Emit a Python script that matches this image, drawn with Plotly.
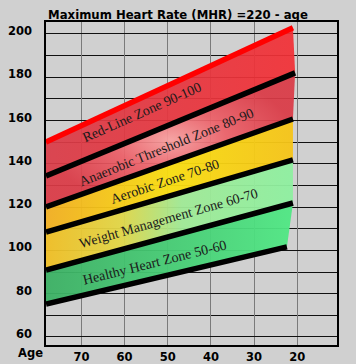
import plotly.graph_objects as go

# ---------------- data ----------------
zone_names = ["Red-Line Zone 90-100", "Anaerobic Threshold Zone 80-90", "Aerobic Zone 70-80",
              "Weight Management Zone 60-70", "Healthy Heart Zone 50-60"]
boundary_pct = [100, 90, 80, 70, 60, 50]
boundary_age_start = [78.2, 78.2, 78.2, 78.2, 78.2, 78.2]
boundary_age_end = [21.0, 20.5, 21.0, 21.0, 21.0, 22.4]
boundary_hr_start = [150.1, 134.4, 120.1, 108.5, 90.9, 75.2]
boundary_hr_end = [202.8, 182.0, 160.7, 141.8, 121.9, 101.6]

x_ticks = [70, 60, 50, 40, 30, 20]
y_ticks = [60, 80, 100, 120, 140, 160, 180, 200]

title_text = "Maximum Heart Rate (MHR) =220 - age"

# ---------------- styles ----------------
BG = "#d0d0d0"
zone_gradients = [
    dict(type="horizontal", colorscale=[[0, "rgba(218,60,72,0.93)"], [1, "rgba(242,48,54,0.93)"]]),
    dict(type="radial", colorscale=[[0, "rgba(248,160,160,0.93)"], [0.45, "rgba(236,96,104,0.93)"],
                                    [1, "rgba(218,58,70,0.93)"]]),
    dict(type="horizontal", colorscale=[[0, "rgba(242,175,34,0.95)"], [0.5, "rgba(249,222,16,0.95)"],
                                        [1, "rgba(246,196,24,0.95)"]]),
    dict(type="horizontal", colorscale=[[0, "rgba(240,190,36,0.95)"], [0.3, "rgba(226,214,70,0.95)"],
                                        [0.55, "rgba(160,234,150,0.95)"], [1, "rgba(142,240,160,0.95)"]]),
    dict(type="horizontal", colorscale=[[0, "rgba(60,176,100,0.95)"], [1, "rgba(80,232,132,0.95)"]]),
]
label_pos = [(56.0, 163.5, -24), (50.4, 147.6, -22), (50.6, 132.0, -18.5), (49.9, 114.8, -16),
             (53.0, 94.4, -14)]

fig = go.Figure()

# zone fills
for i, name in enumerate(zone_names):
    xs = [boundary_age_start[i], boundary_age_end[i], boundary_age_end[i + 1], boundary_age_start[i + 1],
          boundary_age_start[i]]
    ys = [boundary_hr_start[i], boundary_hr_end[i], boundary_hr_end[i + 1], boundary_hr_start[i + 1],
          boundary_hr_start[i]]
    fig.add_trace(go.Scatter(x=xs, y=ys, mode="lines", fill="toself", line=dict(width=0),
                             fillgradient=zone_gradients[i], hoverinfo="skip", showlegend=False))

# boundary lines
for i, pct in enumerate(boundary_pct):
    color = "#ff0000" if pct == 100 else "#000000"
    fig.add_trace(go.Scatter(x=[boundary_age_start[i], boundary_age_end[i]],
                             y=[boundary_hr_start[i], boundary_hr_end[i]],
                             mode="lines", line=dict(color=color, width=5.5),
                             hoverinfo="skip", showlegend=False))

# zone labels
for name, (ax, ay, ang) in zip(zone_names, label_pos):
    fig.add_annotation(x=ax, y=ay, text=name, showarrow=False, textangle=ang,
                       font=dict(family="Liberation Serif", size=14, color="#1a1a1a"))

# "Age" label
fig.add_annotation(xref="paper", yref="paper", x=0, y=-0.026, xanchor="right", yanchor="middle",
                   text="Age", showarrow=False, xshift=-1,
                   font=dict(family="DejaVu Sans", size=11.5, color="#000", weight="bold"))

tickfont = dict(family="DejaVu Sans", size=11.5, color="#000", weight="bold")

fig.update_layout(
    width=356, height=364,
    margin=dict(l=46, r=19, t=22, b=19, autoexpand=False),
    paper_bgcolor=BG, plot_bgcolor=BG,
    title=dict(text=title_text, x=0.5, xref="container", xanchor="center",
               y=1 - 15 / 364, yref="container", yanchor="middle", automargin=False,
               font=dict(family="DejaVu Sans", size=11.7, color="#000", weight="bold")),
    xaxis=dict(range=[78.2, 10.8], tickvals=x_ticks, ticktext=[str(v) for v in x_ticks],
               showgrid=True, gridcolor="#7a7a7a", gridwidth=1, zeroline=False,
               showline=True, linecolor="#000", linewidth=1.5, mirror=True, automargin=False,
               ticks="", tickfont=tickfont, fixedrange=True),
    yaxis=dict(range=[56.3, 205.5], tickvals=y_ticks, ticktext=[str(v) for v in y_ticks],
               showgrid=True, gridcolor="#111", gridwidth=1, zeroline=False,
               minor=dict(dtick=10, tick0=60, showgrid=True, gridcolor="#111", gridwidth=1),
               showline=True, linecolor="#000", linewidth=1.5, mirror=True, automargin=False,
               ticks="", tickfont=tickfont, ticklabelstandoff=10, ticklabelshift=-3, fixedrange=True),
)

fig.write_html("out.html", config={"displayModeBar": False},
               post_script="document.body.style.margin='0';document.body.style.background='#d0d0d0';")
